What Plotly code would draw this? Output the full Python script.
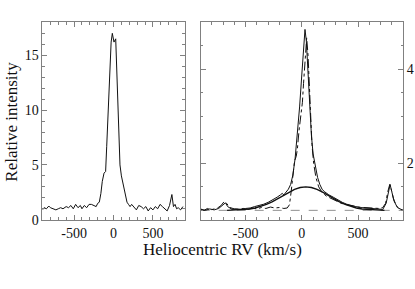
import plotly.graph_objects as go

# Left panel: observed profile
x_left = [-900, -880, -850, -820, -800, -760, -730, -700, -670, -640, -600, -570, -540, -510,
          -480, -450, -420, -400, -370, -340, -310, -280, -250, -220, -200, -180, -160, -142,
          -120, -100, -86, -70, -50, -30, -15, 6, 28, 45, 60, 74, 82, 100, 120, 133, 150,
          171, 190, 210, 230, 260, 290, 320, 350, 380, 410, 440, 470, 500, 530, 560, 590,
          620, 650, 680, 710, 740, 760, 780, 800, 820, 850, 880, 900]
y_left = [0.9, 1.1, 1.0, 1.25, 1.1, 1.0, 0.9, 1.0, 1.1, 1.0, 1.2, 1.1, 1.3, 1.0,
          1.4, 1.1, 1.3, 1.0, 1.3, 1.1, 1.4, 1.4, 1.3, 1.2, 1.5, 1.6, 2.4, 3.5,
          4.25, 4.4, 6.7, 9.5, 13.5, 16.2, 17.0, 16.2, 16.5, 13.0, 9.0, 6.7, 5.0, 4.0, 3.3, 2.9, 2.5,
          1.6, 1.4, 1.2, 1.4, 1.1, 0.9, 1.3, 1.2, 1.0, 1.2, 0.8, 1.1, 0.9, 1.2, 1.0,
          1.4, 1.2, 1.0, 0.8, 1.3, 2.3, 1.2, 1.4, 1.0, 1.1, 0.9, 1.2]

# Right panel: observed profile (solid)
x_obs = [-900, -860, -820, -780, -740, -700, -680, -660, -620, -580, -540, -500, -460, -420,
         -380, -340, -300, -260, -220, -190, -175, -160, -140, -120, -100, -80, -60, -40, -20,
         0, 15, 28, 40, 55, 70, 85, 100, 120, 140, 160, 180, 200, 240, 280, 320, 360, 400,
         440, 480, 520, 560, 600, 640, 680, 720, 750, 770, 785, 800, 820, 850, 880, 900]
y_obs = [1.02, 1.0, 1.03, 1.01, 1.04, 1.12, 1.16, 1.08, 1.02, 1.03, 1.02, 1.04, 1.05, 1.08,
         1.10, 1.13, 1.17, 1.22, 1.28, 1.33, 1.36, 1.33, 1.38, 1.45, 1.55, 1.75, 2.1, 2.6, 3.2,
         3.9, 4.5, 4.85, 4.6, 3.9, 3.2, 2.6, 2.2, 1.9, 1.7, 1.55, 1.45, 1.40, 1.33, 1.28, 1.22, 1.17, 1.13,
         1.10, 1.08, 1.06, 1.05, 1.04, 1.03, 1.03, 1.02, 1.15, 1.4, 1.55, 1.4, 1.2, 1.06, 1.02, 1.0]

# Right panel: broad component
x_broad = [-665, -565, -465, -415, -365, -315, -265, -215, -165, -115, -65, -15, 35,
           85, 135, 185, 235, 285, 335, 385, 435, 485, 535, 635, 735]
y_broad = [1.0, 1.01, 1.03, 1.05, 1.08, 1.125, 1.18, 1.245, 1.317, 1.387, 1.445, 1.486, 1.5,
           1.486, 1.445, 1.387, 1.317, 1.245, 1.18, 1.125, 1.08, 1.05, 1.03, 1.01, 1.0]

# Right panel: comparison profile (dash-dot)
x_dd = [-900, -870, -840, -810, -780, -750, -720, -690, -670, -640, -600, -560, -520, -480,
        -440, -400, -360, -320, -280, -240, -200, -160, -130, -110, -95, -80, -65, -50, -40,
        -25, -10, 5, 15, 30, 43, 55, 65, 75, 90, 105, 125, 150, 180, 220, 260, 300, 350,
        400, 450, 500, 550, 600, 650, 690, 720, 745, 765, 782, 795, 815, 840, 870, 900]
y_dd = [1.03, 1.0, 1.04, 1.01, 1.03, 1.05, 1.1, 1.19, 1.15, 1.06, 1.03, 1.02, 1.04, 1.02,
        1.05, 1.03, 1.06, 1.04, 1.07, 1.05, 1.06, 1.04, 1.05, 1.12, 1.4, 1.8, 2.05, 2.15, 2.3,
        2.7, 3.0, 3.3, 3.7, 4.3, 4.67, 4.3, 3.7, 3.0, 2.4, 2.0, 1.7, 1.5, 1.38, 1.3, 1.25, 1.2, 1.15,
        1.12, 1.09, 1.07, 1.06, 1.05, 1.04, 1.04, 1.06, 1.15, 1.4, 1.55, 1.45, 1.25, 1.1, 1.03, 1.0]

# Continuum level
x_cont = [-900, 900]
y_cont = [1.0, 1.0]

# Tick labels
x_tick_vals = [-500, 0, 500]
x_tick_text = ["-500", "0", "500"]

FONT = "Liberation Serif"
AX = "#808080"
INK = "#111111"

fig = go.Figure()
fig.add_trace(go.Scatter(x=x_left, y=y_left, mode="lines", line=dict(color=INK, width=1),
                         xaxis="x", yaxis="y", showlegend=False))
fig.add_trace(go.Scatter(x=x_cont, y=y_cont, mode="lines", line=dict(color="#909090", width=1, dash="dash"),
                         xaxis="x2", yaxis="y2", showlegend=False))
fig.add_trace(go.Scatter(x=x_broad, y=y_broad, mode="lines", line=dict(color=INK, width=1.4),
                         xaxis="x2", yaxis="y2", showlegend=False))
fig.add_trace(go.Scatter(x=x_obs, y=y_obs, mode="lines", line=dict(color=INK, width=1),
                         xaxis="x2", yaxis="y2", showlegend=False))
fig.add_trace(go.Scatter(x=x_dd, y=y_dd, mode="lines", line=dict(color=INK, width=1, dash="dashdot"),
                         xaxis="x2", yaxis="y2", showlegend=False))

ydom = [0.218, 0.9204]
common_x = dict(range=[-900, 900], tickmode="array", tickvals=x_tick_vals, ticktext=x_tick_text,
                ticks="inside", ticklen=5, tickcolor=AX,
                showline=True, linecolor=AX, linewidth=1, mirror="ticks", showgrid=False,
                zeroline=False, tickfont=dict(family=FONT, size=14, color=INK),
                minor=dict(ticks="inside", tick0=0, dtick=100, ticklen=2.5, tickcolor=AX, showgrid=False))

fig.update_layout(
    width=415, height=289, autosize=False,
    margin=dict(l=0, r=0, t=0, b=0),
    paper_bgcolor="white", plot_bgcolor="white",
    xaxis=dict(domain=[0.1024, 0.4446], anchor="y", **common_x),
    xaxis2=dict(domain=[0.4836, 0.9711], anchor="y2", **common_x),
    yaxis=dict(domain=ydom, anchor="x", range=[0, 18], tick0=0, dtick=5, ticks="inside", ticklen=5,
               tickcolor=AX, showline=True, linecolor=AX, linewidth=1, mirror="ticks",
               showgrid=False, zeroline=False, tickfont=dict(family=FONT, size=14, color=INK),
               minor=dict(ticks="inside", dtick=1, ticklen=2.5, tickcolor=AX, showgrid=False)),
    yaxis2=dict(domain=ydom, anchor="x2", side="right", range=[0.8, 5.0], tick0=0, dtick=2,
                ticks="inside", ticklen=5, tickcolor=AX, showline=True, linecolor=AX, linewidth=1,
                mirror="ticks", showgrid=False, zeroline=False,
                tickfont=dict(family=FONT, size=14, color=INK),
                minor=dict(ticks="inside", dtick=0.5, ticklen=2.5, tickcolor=AX, showgrid=False)),
    annotations=[
        dict(text="Heliocentric RV (km/s)", x=0.537, y=0.112, xref="paper", yref="paper",
             showarrow=False, font=dict(family=FONT, size=17, color=INK), xanchor="center", yanchor="middle"),
        dict(text="Relative intensity", x=0.029, y=0.567, xref="paper", yref="paper", textangle=-90,
             showarrow=False, font=dict(family=FONT, size=17, color=INK), xanchor="center", yanchor="middle"),
    ],
)

fig.write_html("out.html", config={"displayModeBar": False, "responsive": False},
               post_script="document.body.style.margin='0px';document.body.style.overflow='hidden';")
